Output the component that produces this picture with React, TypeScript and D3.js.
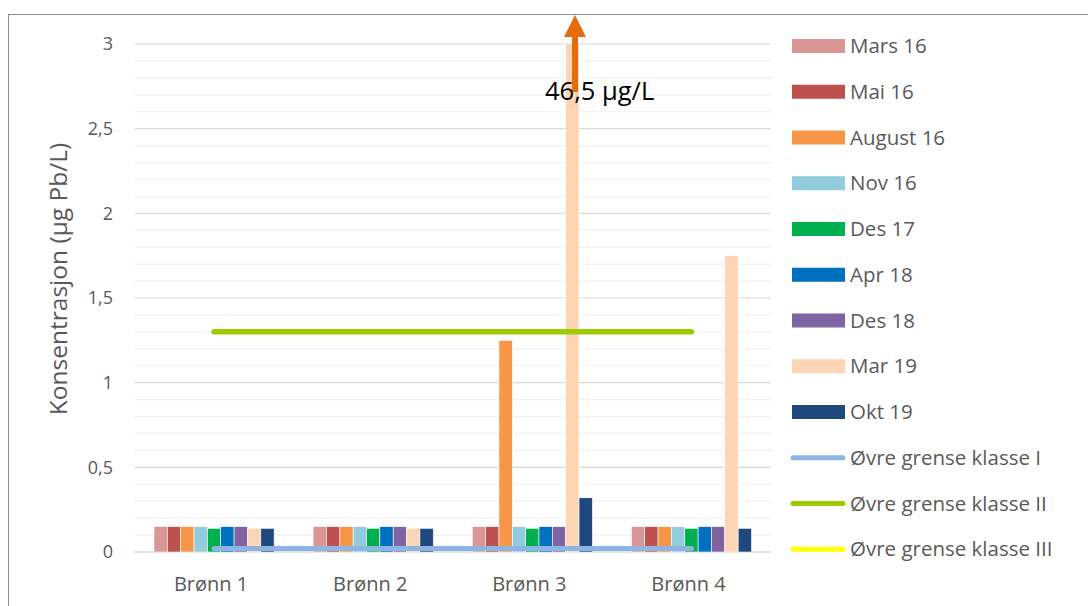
import React from "react";
import * as d3 from "d3";

const categories = ["Brønn 1", "Brønn 2", "Brønn 3", "Brønn 4"];
const seriesNames = ["Mars 16", "Mai 16", "August 16", "Nov 16", "Des 17", "Apr 18", "Des 18", "Mar 19", "Okt 19"];
const seriesColors = ["#D99694", "#C0504D", "#F79646", "#93CDDD", "#00B050", "#0070C0", "#8064A2", "#FCD5B5", "#1F497D"];
const marsValues = [0.15, 0.15, 0.15, 0.15];
const maiValues = [0.15, 0.15, 0.15, 0.15];
const augustValues = [0.15, 0.15, 1.25, 0.15];
const novValues = [0.15, 0.15, 0.15, 0.15];
const des17Values = [0.14, 0.14, 0.14, 0.14];
const apr18Values = [0.15, 0.15, 0.15, 0.15];
const des18Values = [0.15, 0.15, 0.15, 0.15];
const mar19Values = [0.14, 0.14, 46.5, 1.75];
const okt19Values = [0.14, 0.14, 0.32, 0.14];
const barSeries = [marsValues, maiValues, augustValues, novValues, des17Values, apr18Values, des18Values, mar19Values, okt19Values];

const lineNames = ["Øvre grense klasse I", "Øvre grense klasse II", "Øvre grense klasse III"];
const lineColors = ["#8EB4E3", "#9BCB00", "#FFFF00"];
const klasseI = [0.02, 0.02, 0.02, 0.02];
const klasseII = [1.3, 1.3, 1.3, 1.3];
const klasseIII = [14, 14, 14, 14];
const lineSeries = [klasseI, klasseII, klasseIII];

const yTicks = [0, 0.5, 1, 1.5, 2, 2.5, 3];
const minorTicks = d3.range(0, 31).map((i) => i / 10);
const annotation = "46,5 µg/L";
const yTitle = "Konsentrasjon (µg Pb/L)";

const FONT = "'Open Sans', Lato, sans-serif";

export default function App() {
  const left = 134.5, right = 771, top = 44, bottom = 552;
  const x = d3.scaleBand<string>().domain(categories).range([left, right]).paddingInner(0).paddingOuter(0);
  const y = d3.scaleLinear().domain([0, 3]).range([bottom, top]);
  const groupW = x.bandwidth() * 0.755;
  const xs = d3.scaleBand<string>().domain(seriesNames).range([0, groupW]);
  const fmt = (v: number) => String(v).replace(".", ",");
  const clipY = (v: number) => y(Math.min(v, 3));
  const line = d3.line<number>()
    .x((_, i) => (x(categories[i]) as number) + x.bandwidth() / 2)
    .y((v) => y(v));
  const arrowX = 575;
  const legendY = d3.range(12).map((i) => 46 + i * 45.75);

  return (
    <svg width={1088} height={606} style={{ position: "absolute", left: 0, top: 0, background: "#fff" }} fontFamily={FONT}>
      <defs>
        <clipPath id="plotclip">
          <rect x={left - 10} y={top} width={right - left + 20} height={bottom - top + 10} />
        </clipPath>
      </defs>
      <rect x={8.5} y={14.5} width={1200} height={700} fill="#fff" stroke="#8c8c8c" strokeWidth={1} />
      {minorTicks.map((t) => (
        <line key={"m" + t} x1={left} x2={right} y1={y(t)} y2={y(t)}
          stroke={Math.abs((t * 10) % 5) < 1e-6 ? "#D9D9D9" : "#F0F0F0"} strokeWidth={t === 0 ? 1.5 : 1.2} />
      ))}
      {yTicks.map((t) => (
        <text key={"y" + t} x={113} y={y(t)} dy="0.35em" textAnchor="end" fontSize={18} fill="#595959">{fmt(t)}</text>
      ))}
      <text transform={`translate(58,${(top + bottom) / 2 - 19}) rotate(-90)`} textAnchor="middle" dy="0.35em" fontSize={24.5} fill="#595959">{yTitle}</text>
      <g clipPath="url(#plotclip)">
        {barSeries.map((vals, si) =>
          vals.map((v, ci) => {
            const bx = (x(categories[ci]) as number) + (x.bandwidth() - groupW) / 2 + (xs(seriesNames[si]) as number);
            return (
              <rect key={si + "-" + ci} x={bx} y={clipY(v)} width={xs.bandwidth()} height={bottom - clipY(v)}
                fill={seriesColors[si]} stroke="#fff" strokeWidth={0.6} />
            );
          })
        )}
        {lineSeries.map((vals, li) => (
          <path key={"l" + li} d={line(vals) || ""} fill="none" stroke={lineColors[li]} strokeWidth={li === 0 ? 5 : 5.5} strokeLinecap="round" />
        ))}
      </g>
      {categories.map((c) => (
        <text key={c} x={(x(c) as number) + x.bandwidth() / 2 - 3} y={584} dy="0.35em" textAnchor="middle" fontSize={20} fill="#595959">{c}</text>
      ))}
      <line x1={arrowX} x2={arrowX} y1={92} y2={34} stroke="#E46C0A" strokeWidth={6} />
      <path d={`M${arrowX},15 L${arrowX - 11},37 L${arrowX + 11},37 Z`} fill="#E46C0A" />
      <text x={545} y={100} fontSize={25.5} fill="#000">{annotation}</text>
      {seriesNames.map((n, i) => (
        <g key={n}>
          <rect x={792} y={legendY[i] - 7} width={53} height={14} fill={seriesColors[i]} />
          <text x={850} y={legendY[i]} dy="0.35em" fontSize={20.5} fill="#595959">{n}</text>
        </g>
      ))}
      {lineNames.map((n, i) => (
        <g key={n}>
          <line x1={793} x2={843} y1={legendY[9 + i]} y2={legendY[9 + i]} stroke={lineColors[i]} strokeWidth={5} strokeLinecap="round" />
          <text x={850} y={legendY[9 + i]} dy="0.35em" fontSize={20.5} fill="#595959">{n}</text>
        </g>
      ))}
    </svg>
  );
}
